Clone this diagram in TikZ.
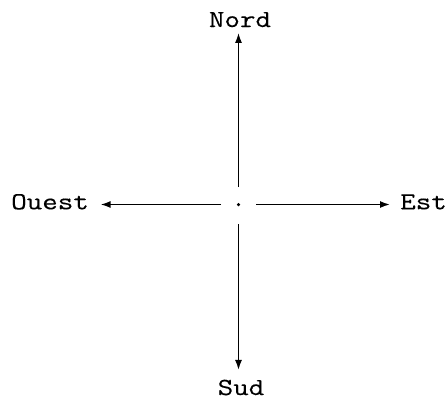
\documentclass[tikz,border=0pt]{standalone}
\usepackage{fontspec}
\newfontfamily\lblfont{Latin Modern Mono}[FakeStretch=1.23,FakeBold=0.25]
\usepackage{tikz}
\usetikzlibrary{arrows.meta}

\begin{document}
\begin{tikzpicture}[
    x=1pt,y=-1pt,
    >={Latex[length=10pt,width=7pt]},
    line width=1.5pt,
    lbl/.style={
        inner sep=0pt,
        font=\lblfont\fontsize{24.5}{29}\selectfont
    },
    centre/.style={
        circle,
        fill,
        inner sep=0pt,
        minimum size=3.5pt
    }
]
\useasboundingbox (0,0) rectangle (448,405);

\node[centre] (c) at (238.5,204.5) {};

\node[lbl, anchor=base] (nord)  at (240,27) {Nord};
\node[lbl, anchor=base] (sud)   at (241,395) {Sud};
\node[lbl, anchor=base west] (ouest) at (10.5,209.3) {Ouest};
\node[lbl, anchor=base west] (est)   at (399.5,209.3) {Est};

\draw[->, shorten <=15pt, shorten >=5pt] (c) -- (c |- nord.south);
\draw[->, shorten <=17pt, shorten >=9pt] (c) -- (c |- sud.north);
\draw[->, shorten <=15pt, shorten >=11pt] (c) -- (c -| ouest.east);
\draw[->, shorten <=15pt, shorten >=9.5pt] (c) -- (c -| est.west);

\end{tikzpicture}
\end{document}
